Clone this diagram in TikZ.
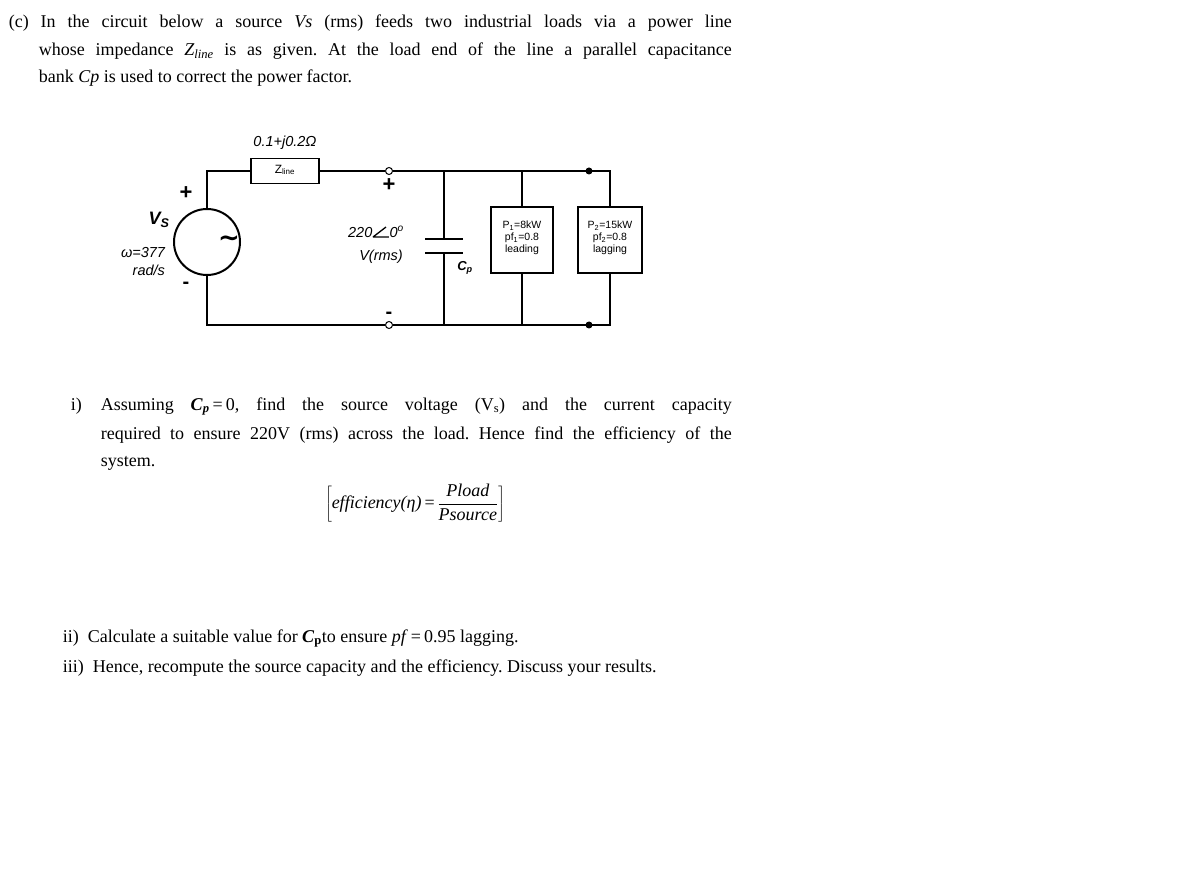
\documentclass[tikz,border=0pt]{standalone}
\usepackage{fontspec}
\setmainfont{Liberation Serif}
\newfontfamily\arial{Liberation Sans}
\newfontfamily\dejavu{DejaVu Sans}
\begin{document}
\frenchspacing
\begin{tikzpicture}[x=1pt,y=-1pt,line width=1.6pt,
  txt/.style={anchor=base west,inner sep=0,font=\frenchspacing\fontsize{18}{22}\selectfont},
  lbl/.style={inner sep=0,font=\arial\itshape\fontsize{14.5}{18}\selectfont},
  box/.style={draw,line width=1.2pt,inner sep=0},
  small/.style={inner sep=0,align=center,font=\arial\fontsize{10.5}{12}\selectfont},
  term/.style={circle,draw,line width=1pt,fill=white,inner sep=0,minimum size=7pt},
  dotn/.style={circle,fill,inner sep=0,minimum size=7pt}]
\useasboundingbox (0,0) rectangle (1195,885);
% text
\node[txt] (t1) at (8,28) {\makebox[723pt][s]{(c) In the circuit below a source \textit{Vs} (rms) feeds two industrial loads via a power line}};
\node[txt] (t2) at (38,56) {\makebox[693pt][s]{whose impedance \textit{Z\textsubscript{line}} is as given. At the load end of the line a parallel capacitance}};
\node[txt] (t3) at (38,83) {bank \textit{Cp} is used to correct the power factor.};
\node[txt] (i1) at (70,410) {i)};
\node[txt] (i2) at (100,410) {\makebox[631pt][s]{Assuming \mbox{\textbf{\textit{C}\textsubscript{\textit{p}}}\,=\,0,} find the source voltage (V\textsubscript{s}) and the current capacity}};
\node[txt] (i3) at (100,439) {\makebox[631pt][s]{required to ensure 220V (rms) across the load. Hence find the efficiency of the}};
\node[txt] (i4) at (100,466) {system.};
\node[inner sep=0,font=\fontsize{18}{22}\selectfont] (eff) at (415,503) {$\left[\textit{efficiency(\char"03B7)}\,\mbox{=}\,\displaystyle\frac{\textit{Pload}}{\textit{Psource}}\right]$};
\node[txt] (ii) at (62,642) {ii)\enspace Calculate a suitable value for \textbf{\textit{C}\textsubscript{p}}to ensure \textit{pf}\,=\,0.95 lagging.};
\node[txt] (iii) at (62,672) {iii)\enspace Hence, recompute the source capacity and the efficiency. Discuss your results.};
% circuit
\node[circle,draw,line width=2pt,minimum size=66pt,inner sep=0] (src) at (207,242) {};
\node[inner sep=0,font=\dejavu\bfseries\fontsize{26}{26}\selectfont] (tl) at (229,241) {\char"7E};
\node[box,minimum width=68pt,minimum height=25pt] (z) at (285,171) {};
\node[small,font=\arial\fontsize{12}{13}\selectfont] (zl) at (285,170) {Z\textsubscript{line}};
\node[term] (ta) at (389,171) {};
\node[term] (tb) at (389,325) {};
\node[box,minimum width=62pt,minimum height=66pt] (l1) at (522,240) {};
\node[small] (l1t) at (522,238) {P\textsubscript{1}=8kW\\pf\textsubscript{1}=0.8\\leading};
\node[box,minimum width=64pt,minimum height=66pt] (l2) at (610,240) {};
\node[small] (l2t) at (610,238) {P\textsubscript{2}=15kW\\pf\textsubscript{2}=0.8\\lagging};
\coordinate (tl0) at (207,171); \coordinate (bl0) at (207,325);
\coordinate (c1) at (444,171); \coordinate (c2) at (444,325);
\coordinate (p1) at (444,239); \coordinate (p2) at (444,253);
\coordinate (r1) at (522,171); \coordinate (r2) at (522,325);
\node[dotn] (d1) at (589,171) {}; \node[dotn] (d2) at (589,325) {};
\coordinate (q1) at (610,171); \coordinate (q2) at (610,325);
\draw (src.north) -- (tl0) -- (z.west);
\draw (z.east) -- (ta.west);
\draw (ta.east) -- (q1) -- (l2.north);
\draw (src.south) -- (bl0) -- (tb.west);
\draw (tb.east) -- (q2) -- (l2.south);
\draw (r1) -- (l1.north); \draw (r2) -- (l1.south);
\draw (c1) -- (p1); \draw (c2) -- (p2);
\draw[line width=2.2pt] ([xshift=-19pt]p1) -- ([xshift=19pt]p1);
\draw[line width=2.2pt] ([xshift=-19pt]p2) -- ([xshift=19pt]p2);
% labels
\node[lbl] (zv) at (285,143) {0.1+j0.2\char"03A9};
\node[lbl,font=\arial\bfseries\fontsize{22}{22}\selectfont] (sp) at (186,193) {+};
\node[lbl,font=\arial\bfseries\itshape\fontsize{18}{18}\selectfont] (vs) at (159,220) {V\textsubscript{S}};
\node[lbl,align=right] (om) at (143,262) {\char"03C9=377\\rad/s};
\node[lbl,font=\arial\bfseries\fontsize{20}{20}\selectfont] (sm) at (186,285) {-};
\node[lbl,font=\arial\bfseries\fontsize{22}{22}\selectfont] (lp) at (389,185) {+};
\node[lbl] (v220) at (376,232) {220\tikz[baseline=0,line width=1.3pt]\draw (0,0) -- (16pt,0) (0,0) -- (13pt,10pt);0\textsuperscript{o}};
\node[lbl] (vr) at (381,257) {V(rms)};
\node[lbl,font=\arial\bfseries\fontsize{20}{20}\selectfont] (lm) at (389,315) {-};
\node[lbl,font=\arial\bfseries\itshape\fontsize{13}{14}\selectfont] (cp) at (465,268) {C\textsubscript{p}};
\end{tikzpicture}
\end{document}
